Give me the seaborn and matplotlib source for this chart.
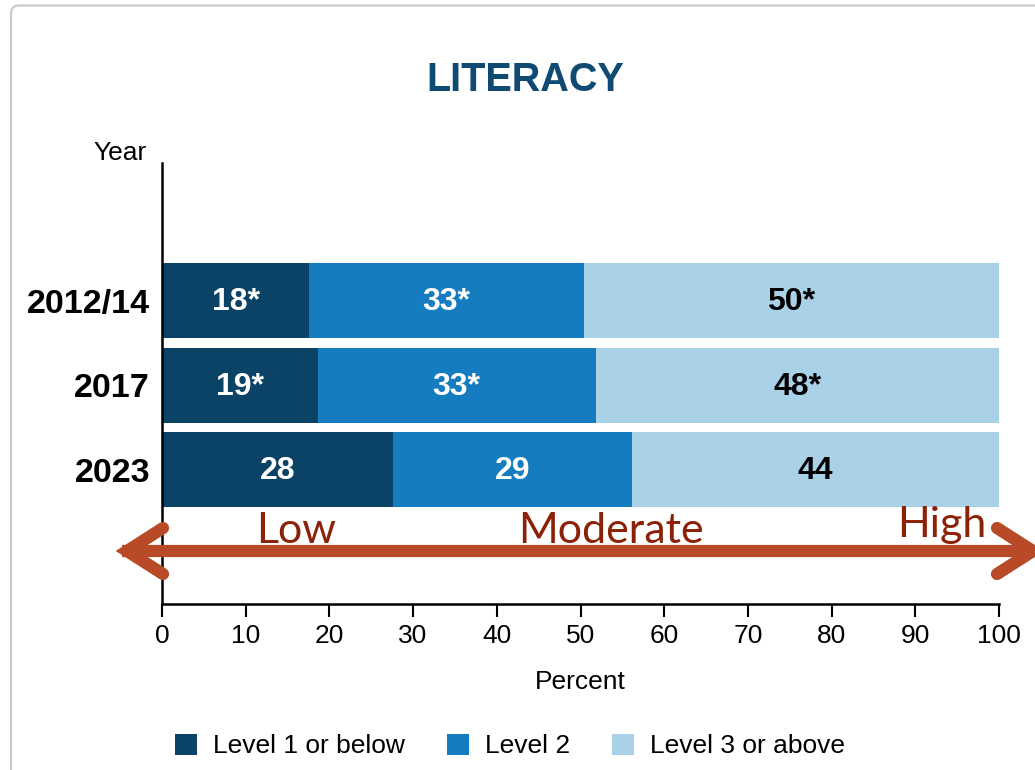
import matplotlib
matplotlib.use("Agg")
import matplotlib.pyplot as plt
import pandas as pd
import seaborn as sns
from matplotlib.patches import Patch, FancyBboxPatch
from matplotlib.lines import Line2D

# Literacy proficiency distribution by survey year (percent)
years = ["2012/14", "2017", "2023"]
level1 = [17.6, 18.6, 27.6]
level2 = [32.8, 33.2, 28.6]
level3 = [49.6, 48.2, 43.8]
significant = [True, True, False]
level_names = ["Level 1 or below", "Level 2", "Level 3 or above"]
x_ticks = list(range(0, 101, 10))
scale_words = ["Low", "Moderate", "High"]

colors = ["#0a4366", "#157cc0", "#a9d2e8"]
label_colors = ["white", "white", "black"]
title_color = "#0f4a72"
scale_text_color = "#8b2208"
arrow_color = "#b84a28"

sns.set_theme(style="ticks")
plt.rcParams["font.family"] = ["Liberation Sans", "DejaVu Sans"]
plt.rcParams["text.color"] = "black"

W, H = 1035, 770
fig = plt.figure(figsize=(W / 100, H / 100), dpi=100)


def fx(px):
    return px / W


def fy(py):
    return 1 - py / H


ax = fig.add_axes([fx(162), fy(604), fx(999) - fx(162), fy(163) - fy(604)])

df = pd.DataFrame({"Year": years, "L1": level1, "L2": level2, "L3": level3})
df["c1"] = df["L1"]
df["c2"] = df["L1"] + df["L2"]
df["c3"] = df["c2"] + df["L3"]

# stacked bars: draw cumulative totals from the widest down
for col, color in zip(["c3", "c2", "c1"], colors[::-1]):
    sns.barplot(data=df, x=col, y="Year", orient="h", color=color,
                saturation=1, width=0.885, linewidth=0, errorbar=None, ax=ax)

# segment value labels
for i in range(len(years)):
    start = 0.0
    for vals, tc in zip([level1, level2, level3], label_colors):
        v = vals[i]
        txt = f"{v:.0f}" + ("*" if significant[i] else "")
        ax.text(start + v / 2, i + 0.02, txt, ha="center", va="center",
                color=tc, fontsize=23, fontweight="bold")
        start += v

ax.set_xlim(0, 100)
ax.set_ylim(3.59, -1.63)
ax.set_xticks(x_ticks)
ax.set_xticklabels([str(t) for t in x_ticks])
ax.set_ylabel("")
ax.set_xlabel("Percent", fontsize=19, labelpad=16, color="black")

for side in ["top", "right"]:
    ax.spines[side].set_visible(False)
for side in ["left", "bottom"]:
    ax.spines[side].set_linewidth(1.8)
    ax.spines[side].set_color("black")

ax.tick_params(axis="x", direction="out", length=9.4, width=1.5,
               labelsize=19, pad=5, colors="black")
ax.tick_params(axis="y", length=0, labelsize=24.5, pad=8.6, colors="black")
for lbl in ax.get_yticklabels():
    lbl.set_fontweight("bold")

# title and axis caption
fig.text(fx(525), fy(80), "LITERACY", ha="center", va="center",
         fontsize=28.5, fontweight="bold", color=title_color)
fig.text(fx(120), fy(153), "Year", ha="center", va="center",
         fontsize=19, color="black")

# proficiency scale arrow
arrow_lw = 8.8
fig.add_artist(Line2D([fx(122), fx(1040)], [fy(551), fy(551)],
                      color=arrow_color, lw=arrow_lw, solid_capstyle="butt"))
fig.add_artist(Line2D([fx(163), fx(127), fx(163)], [fy(528), fy(551), fy(574)],
                      color=arrow_color, lw=arrow_lw,
                      solid_capstyle="round", solid_joinstyle="miter"))
fig.add_artist(Line2D([fx(997), fx(1033), fx(997)], [fy(528), fy(551), fy(574)],
                      color=arrow_color, lw=arrow_lw,
                      solid_capstyle="round", solid_joinstyle="miter"))

for word, xc, yb in zip(scale_words, [296, 611, 942], [543, 543, 537]):
    fig.text(fx(xc), fy(yb), word, ha="center", va="baseline",
             fontsize=31, family=["Lato", "DejaVu Sans"], color=scale_text_color)

# legend
handles = [Patch(facecolor=c, edgecolor="none", label=n)
           for c, n in zip(colors, level_names)]
leg = fig.legend(handles=handles, loc="center", bbox_to_anchor=(fx(510), fy(746)),
                 ncol=3, frameon=False, fontsize=19, handlelength=0.83,
                 handleheight=0.87, handletextpad=0.6, columnspacing=1.6)
for t in leg.get_texts():
    t.set_color("black")

# outer rounded frame
frame = FancyBboxPatch((0.11, -0.3), 10.6, 7.945,
                       boxstyle="round,pad=0,rounding_size=0.08",
                       transform=fig.dpi_scale_trans, facecolor="none",
                       edgecolor="#c8c8c8", lw=1.5)
fig.add_artist(frame)

fig.savefig("out.png", dpi=100)
